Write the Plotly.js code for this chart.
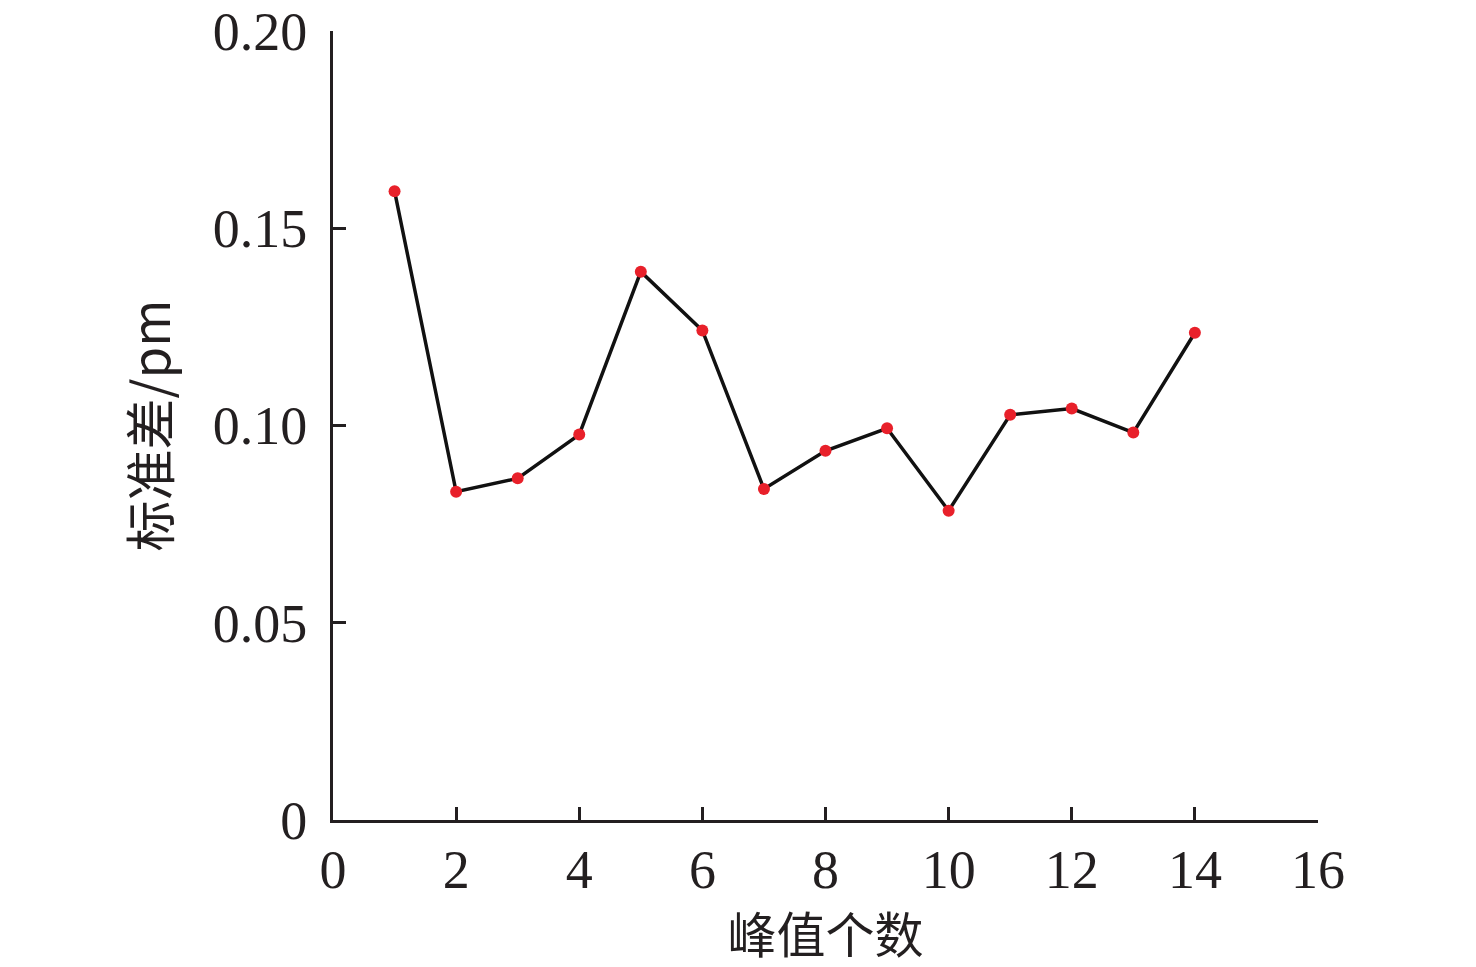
<!DOCTYPE html>
<html>
<head>
<meta charset="utf-8">
<script src="https://cdn.plot.ly/plotly-3.0.1.min.js"></script>
<style>html,body{margin:0;padding:0;background:#fff;}#chart{width:1476px;height:967px;}</style>
</head>
<body>
<div id="chart"></div>
<script>
const peakCounts = [1, 2, 3, 4, 5, 6, 7, 8, 9, 10, 11, 12, 13, 14];
const stdDev = [0.1594, 0.0832, 0.0866, 0.0977, 0.1390, 0.1241, 0.0839, 0.0936, 0.0993, 0.0784, 0.1027, 0.1043, 0.0982, 0.1235];
const xTickVals = [0, 2, 4, 6, 8, 10, 12, 14, 16];
const yTickVals = [0, 0.05, 0.10, 0.15, 0.20];
const yTickText = ["0", "0.05", "0.10", "0.15", "0.20"];
const xTitle = "峰值个数";
const yTitle = "标准差/pm";

const tickFont = {family: "Liberation Serif, Times New Roman, serif", size: 54, color: "#231f20"};
const titleFont = {family: "Noto Sans CJK SC, Liberation Serif, serif", size: 51, color: "#231f20"};
const xTitleFont = {family: "Noto Sans CJK SC, Liberation Serif, serif", size: 49, color: "#231f20"};

Plotly.newPlot("chart", [{
  x: peakCounts,
  y: stdDev,
  type: "scatter",
  mode: "lines+markers",
  line: {color: "#111", width: 3.5},
  marker: {color: "#e8202a", size: 12},
  cliponaxis: false
}], {
  width: 1476,
  height: 967,
  margin: {l: 333, r: 158, t: 31, b: 147},
  paper_bgcolor: "#fff",
  plot_bgcolor: "#fff",
  showlegend: false,
  xaxis: {
    range: [0, 16],
    tickvals: xTickVals,
    ticktext: xTickVals.map(String),
    ticks: "inside",
    ticklen: 13,
    tickwidth: 3,
    tickcolor: "#231f20",
    showline: true,
    linecolor: "#231f20",
    linewidth: 3,
    showgrid: false,
    zeroline: false,
    tickfont: tickFont,
    ticklabelstandoff: 0,
    title: {text: xTitle, font: xTitleFont, standoff: 6}
  },
  yaxis: {
    range: [0, 0.20],
    tickvals: yTickVals,
    ticktext: yTickText,
    ticks: "inside",
    ticklen: 13,
    tickwidth: 3,
    tickcolor: "#231f20",
    showline: true,
    linecolor: "#231f20",
    linewidth: 3,
    showgrid: false,
    zeroline: false,
    tickfont: tickFont,
    ticklabelstandoff: 12,
    title: {text: yTitle, font: titleFont, standoff: 26}
  }
}, {displayModeBar: false, staticPlot: true});
</script>
</body>
</html>
